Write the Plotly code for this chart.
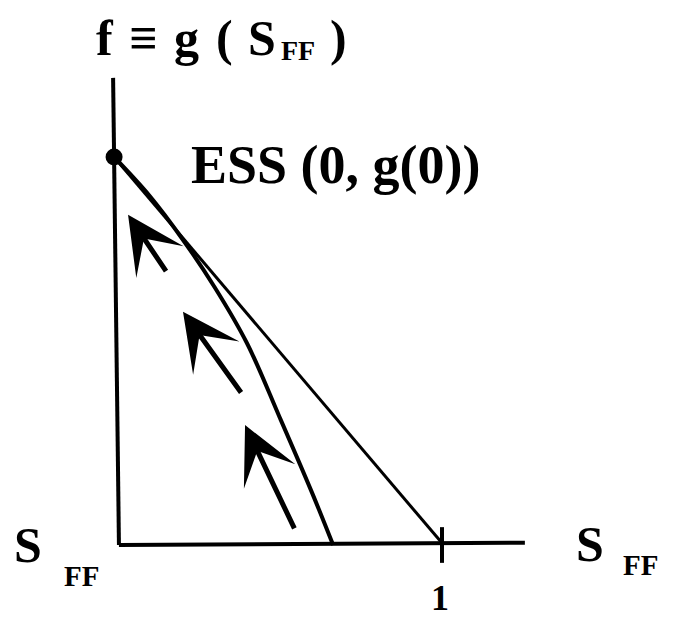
import plotly.graph_objects as go

# ---- data (diagram units: S_FF on x, f on y, g(0) = 1) ----
curve_x = [-0.009, 0.10, 0.20, 0.30, 0.40, 0.50, 0.60, 0.665]
curve_y = [1.00, 0.90, 0.79, 0.665, 0.52, 0.33, 0.135, 0.0]
line_x = [-0.009, 1.0]
line_y = [1.0, 0.005]
ess_x = [-0.009]
ess_y = [1.0]
yaxis_x = [0.006, -0.012]
yaxis_y = [0.0, 1.204]
xaxis_x = [0.006, 1.255]
xaxis_y = [0.0, 0.006]
tick_x = [1.0, 1.0]
tick_y = [-0.046, 0.046]
arrow_tail_x = [0.154, 0.385, 0.548]
arrow_tail_y = [0.702, 0.389, 0.039]
arrow_tip_x = [0.034, 0.203, 0.394]
arrow_tip_y = [0.851, 0.601, 0.309]

OFF = 8            # page body margin
W, H = 684 - OFF, 621 - OFF
FONT = "Liberation Serif"
X0, Y0 = 117 - OFF, 545 - OFF   # pixel position of origin in figure
SX, SY = 325, 388               # pixels per unit

fig = go.Figure()
fig.add_trace(go.Scatter(x=yaxis_x, y=yaxis_y, mode="lines", line=dict(color="black", width=4)))
fig.add_trace(go.Scatter(x=xaxis_x, y=xaxis_y, mode="lines", line=dict(color="black", width=4)))
fig.add_trace(go.Scatter(x=tick_x, y=tick_y, mode="lines", line=dict(color="black", width=4)))
fig.add_trace(go.Scatter(x=line_x, y=line_y, mode="lines", line=dict(color="black", width=3)))
fig.add_trace(go.Scatter(x=curve_x, y=curve_y, mode="lines", line=dict(color="black", width=4, shape="spline")))
fig.add_trace(go.Scatter(x=ess_x, y=ess_y, mode="markers", marker=dict(color="black", size=17)))

for tx, ty, hx, hy in zip(arrow_tail_x, arrow_tail_y, arrow_tip_x, arrow_tip_y):
    fig.add_annotation(x=hx, y=hy, ax=tx, ay=ty, xref="x", yref="y", axref="x", ayref="y",
                       text="", showarrow=True, arrowhead=3, arrowsize=1.9, arrowwidth=5,
                       arrowcolor="black")


def txt(s, px, py, size, xanchor="left"):
    fig.add_annotation(x=(px - OFF) / W, y=1 - (py - OFF) / H, xref="paper", yref="paper",
                       text="<b>" + s + "</b>", showarrow=False, xanchor=xanchor,
                       yanchor="middle", font=dict(family=FONT, size=size, color="black"))

# title  f ≡ g ( S_FF )
TY = 38
txt("f", 105, TY, 50, "center")
txt("≡", 143, TY, 50, "center")
txt("g", 186, TY, 50, "center")
txt("(", 224, TY, 50, "center")
txt("S", 262, TY, 50, "center")
txt("FF", 298, 51, 28, "center")
txt(")", 338, TY, 50, "center")
# ESS label
txt("ESS (0, g(0))", 189, 165, 54)
# axis labels
txt("S", 28, 545, 50, "center")
txt("FF", 81, 576, 29, "center")
txt("S", 590, 544, 50, "center")
txt("FF", 640, 565, 29, "center")
txt("1", 440, 598, 36, "center")

fig.update_layout(
    width=W, height=H, margin=dict(l=0, r=0, t=0, b=0),
    paper_bgcolor="white", plot_bgcolor="white", showlegend=False,
    xaxis=dict(range=[-X0 / SX, (W - X0) / SX], visible=False),
    yaxis=dict(range=[-(H - Y0) / SY, Y0 / SY], visible=False),
)
fig.write_html("out.html")
